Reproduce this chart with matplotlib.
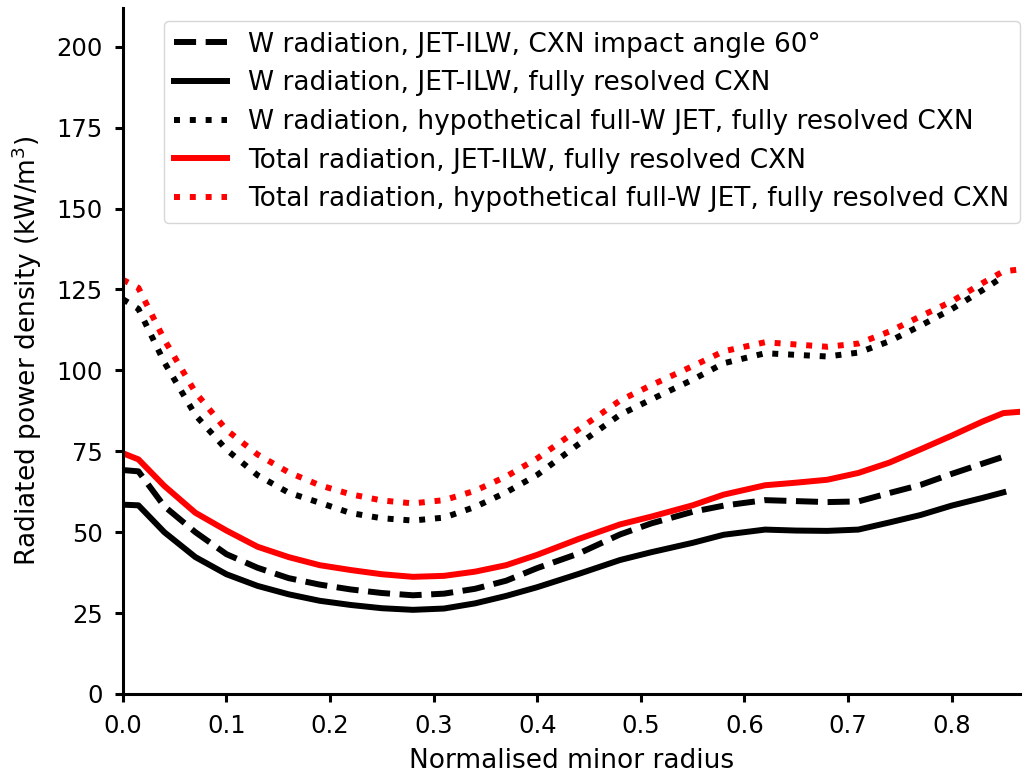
import matplotlib
matplotlib.use("Agg")
import matplotlib.pyplot as plt

# normalised minor radius grid (W curves end at 0.85, total curves at 0.866)
rho_w = [0, 0.015, 0.04, 0.07, 0.1, 0.13, 0.16, 0.19, 0.22, 0.25, 0.28, 0.31,
         0.34, 0.37, 0.40, 0.44, 0.48, 0.51, 0.55, 0.58, 0.62, 0.65, 0.68,
         0.71, 0.74, 0.77, 0.80, 0.83, 0.85]
rho_tot = rho_w + [0.866]

# radiated power density (kW/m^3)
w_ilw_60deg = [69.2, 68.8, 58.0, 50.0, 43.2, 39.0, 35.8, 33.8, 32.3, 31.2, 30.5, 31.0,
               32.5, 35.0, 38.9, 43.4, 49.3, 52.7, 56.3, 58.2, 59.9, 59.6, 59.3,
               59.5, 62.1, 64.6, 68.0, 71.2, 73.3]
w_ilw_full = [58.5, 58.3, 50.0, 42.3, 37.0, 33.4, 30.8, 28.8, 27.5, 26.5, 26.0, 26.4,
              28.0, 30.3, 33.0, 37.1, 41.4, 43.8, 46.7, 49.2, 50.8, 50.5, 50.4,
              50.8, 53.0, 55.3, 58.2, 60.6, 62.3]
w_fullw_full = [122.0, 119.0, 102.5, 86.2, 75.5, 67.6, 62.2, 59.1, 55.9, 54.3, 53.6, 54.5,
                57.8, 62.3, 67.7, 77.2, 86.3, 91.0, 97.1, 102.2, 105.3, 104.8, 104.3,
                105.5, 109.0, 113.8, 118.9, 124.8, 129.0]
tot_ilw_full = [74.4, 72.5, 64.3, 56.0, 50.5, 45.5, 42.3, 39.8, 38.3, 37.0, 36.2, 36.5,
                37.8, 39.8, 43.0, 47.9, 52.4, 54.8, 58.3, 61.6, 64.5, 65.3, 66.2,
                68.3, 71.5, 75.6, 79.8, 84.2, 86.8, 87.2]
tot_fullw_full = [128.0, 125.5, 109.5, 93.2, 81.6, 74.0, 68.5, 64.5, 61.7, 59.8, 58.9, 59.9,
                  62.8, 67.2, 72.8, 81.8, 90.7, 95.4, 101.3, 105.9, 108.7, 108.0, 107.3,
                  108.3, 112.0, 116.7, 121.3, 127.0, 130.6, 131.2]

labels = [
    "W radiation, JET-ILW, CXN impact angle 60°",
    "W radiation, JET-ILW, fully resolved CXN",
    "W radiation, hypothetical full-W JET, fully resolved CXN",
    "Total radiation, JET-ILW, fully resolved CXN",
    "Total radiation, hypothetical full-W JET, fully resolved CXN",
]

plt.rcParams["font.size"] = 19
fig = plt.figure(figsize=(10.24, 7.74), dpi=100)
ax = fig.add_axes([0.120, 0.1034, 0.876, 0.8863])

lw = 4.3
ax.plot(rho_w, w_ilw_60deg, color="black", ls="--", lw=lw, label=labels[0])
ax.plot(rho_w, w_ilw_full, color="black", ls="-", lw=lw, label=labels[1])
ax.plot(rho_w, w_fullw_full, color="black", ls=":", lw=lw, label=labels[2])
ax.plot(rho_tot, tot_ilw_full, color="red", ls="-", lw=lw, label=labels[3])
ax.plot(rho_tot, tot_fullw_full, color="red", ls=":", lw=lw, label=labels[4])

ax.set_xlim(0, 0.866)
ax.set_ylim(0, 212)
ax.set_xticks([0.0, 0.1, 0.2, 0.3, 0.4, 0.5, 0.6, 0.7, 0.8])
ax.set_yticks(range(0, 201, 25))
ax.set_xlabel("Normalised minor radius", labelpad=7)
ax.set_ylabel("Radiated power density (kW/m$^3$)", labelpad=9)

ax.spines["top"].set_visible(False)
ax.spines["right"].set_visible(False)
for s in ("left", "bottom"):
    ax.spines[s].set_linewidth(2.2)
ax.tick_params(width=2.2, length=6, labelsize=17.5, pad=8.5)

ax.legend(loc="upper right", borderaxespad=0, bbox_to_anchor=(1.0, 0.981),
          labelspacing=0.48)

fig.savefig("out.png", dpi=100)
